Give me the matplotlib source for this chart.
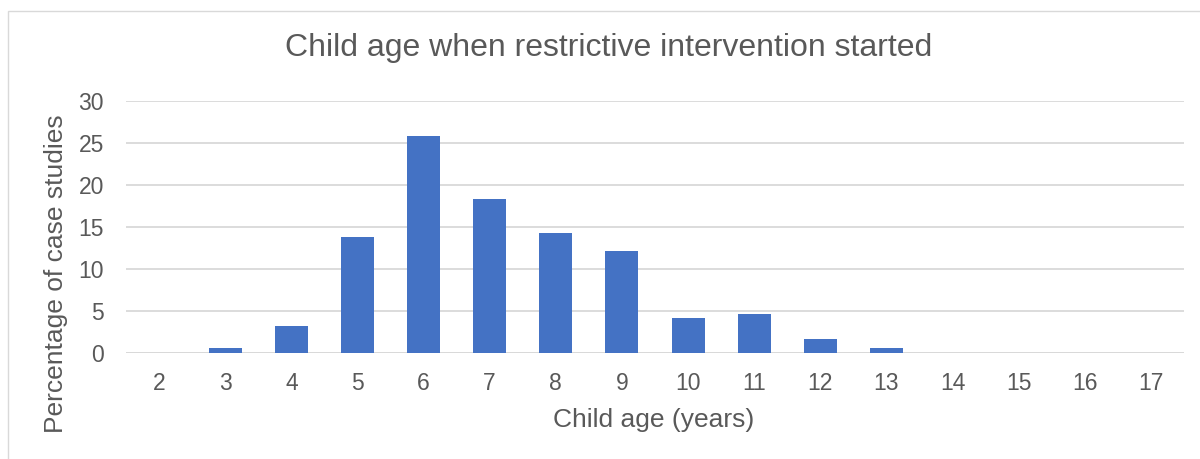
import matplotlib
matplotlib.use("Agg")
import matplotlib.pyplot as plt
from matplotlib.patches import Rectangle

ages = ["2", "3", "4", "5", "6", "7", "8", "9", "10", "11", "12", "13", "14", "15", "16", "17"]
percent = [0, 0.6, 3.2, 13.8, 25.8, 18.3, 14.3, 12.1, 4.2, 4.7, 1.7, 0.6, 0, 0, 0, 0]
yticks = [0, 5, 10, 15, 20, 25, 30]

plt.rcParams['font.family'] = ['Liberation Sans', 'DejaVu Sans']
txt = '#595959'
grid = '#d9d9d9'

fig = plt.figure(figsize=(12, 4.59), dpi=100)
fig.patches.append(Rectangle((8/1200, -0.1), 1.2, (459-11)/459 + 0.1, transform=fig.transFigure,
                             fill=False, edgecolor=grid, linewidth=1))
ax = fig.add_axes([126/1200, 1-353/459, (1184-126)/1200, (353-101)/459])
x = list(range(len(ages)))
ax.bar(x, percent, width=0.5, color='#4472C4', zorder=3)
ax.set_xlim(-0.5, len(ages)-0.5)
ax.set_ylim(0, 30)
ax.set_yticks(yticks)
ax.set_xticks(x)
ax.set_xticklabels(ages)
for s in ax.spines.values():
    s.set_visible(False)
ax.grid(axis='y', color=grid, linewidth=1.3, zorder=0)
ax.axhline(0, color=grid, linewidth=1.3, zorder=2)
ax.tick_params(length=0, colors=txt, labelsize=16.5)
ax.tick_params(axis='x', pad=14)
ax.tick_params(axis='y', pad=16)
ax.set_xlabel("Child age (years)", color=txt, fontsize=19, va='center')
ax.xaxis.set_label_coords((654-126)/1058, (353-420)/252)
ax.set_ylabel("Percentage of case studies", color=txt, fontsize=19, va='center')
ax.yaxis.set_label_coords((56-126)/1058, (353-274)/252)
fig.text(609/1200, 1-48/459, "Child age when restrictive intervention started", color=txt,
         fontsize=23, ha='center', va='center')
fig.savefig("out.png", dpi=100)
